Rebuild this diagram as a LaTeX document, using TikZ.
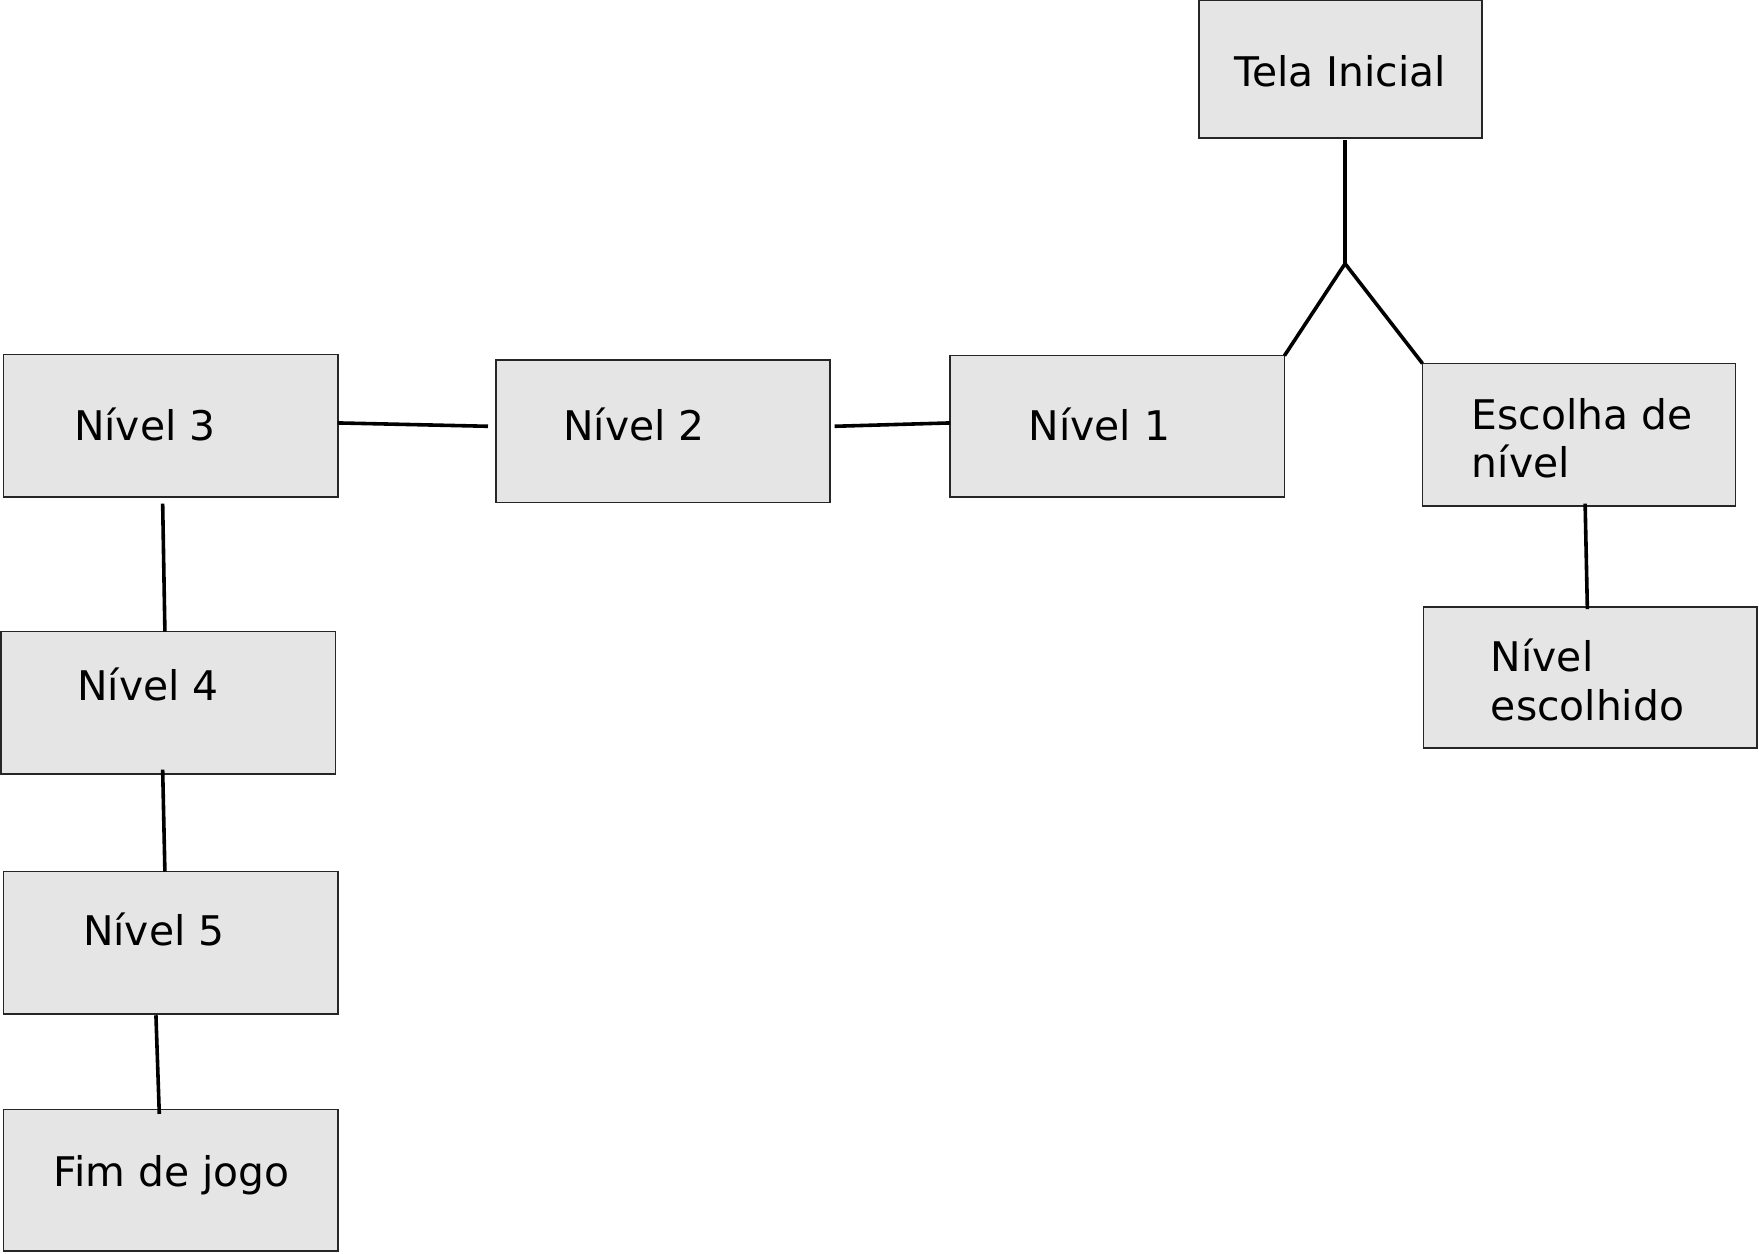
\documentclass[tikz,border=0pt]{standalone}
\usepackage{fontspec}
\setmainfont{DejaVu Sans}
\usetikzlibrary{calc}
\begin{document}
\begin{tikzpicture}[x=0.5pt,y=-0.5pt,
  box/.style={draw=black!85,line width=0.75pt,fill=black!10,inner sep=0pt,outer sep=0pt},
  txt/.style={anchor=base west,inner sep=0pt,outer sep=0pt,font=\fontsize{18.2}{21.5}\selectfont},
  conn/.style={line width=1.6pt,black}]
\useasboundingbox (0,0) rectangle (1568,1117);
% boxes
\node[box,minimum width=126pt,minimum height=61.5pt] (tela) at (1195,61.5) {};
\node[box,minimum width=149pt,minimum height=63pt] (n1) at (996,380) {};
\node[box,minimum width=139.5pt,minimum height=63.5pt] (esc) at (1407.5,387.5) {};
\node[box,minimum width=148.5pt,minimum height=63pt] (nesc) at (1417.5,604) {};
\node[box,minimum width=149pt,minimum height=63.5pt] (n2) at (591,384.5) {};
\node[box,minimum width=149pt,minimum height=63.5pt] (n3) at (152,379.5) {};
\node[box,minimum width=149pt,minimum height=63.5pt] (n4) at (150,626.5) {};
\node[box,minimum width=149pt,minimum height=63.5pt] (n5) at (152,840.5) {};
\node[box,minimum width=149pt,minimum height=63pt] (fim) at (152,1052) {};
% texts
\node[txt] (ttela) at (1100,77) {Tela Inicial};
\node[txt] (tn1) at (917,393) {Nível 1};
\node[txt] (tn2) at (502,393) {Nível 2};
\node[txt] (tn3) at (66,393) {Nível 3};
\node[txt] (tn4) at (69,624) {Nível 4};
\node[txt] (tn5) at (74,843) {Nível 5};
\node[txt] (tfim) at (48,1058) {Fim de jogo};
\node[txt] (tesca) at (1312,383) {Escolha de};
\node[txt] (tescb) at (1312,426) {nível};
\node[txt] (tnesca) at (1329,599) {Nível};
\node[txt] (tnescb) at (1329,642) {escolhido};
% connectors
\coordinate (fork) at (1199,235);
\draw[conn] ($(tela.south)+(4,2)$) -- (fork);
\draw[conn] (fork) -- (n1.north east);
\draw[conn] (fork) -- (esc.north west);
\draw[conn] ($(esc.south)+(5.5,-2)$) -- ($(nesc.north)+(-2.5,2)$);
\draw[conn] ($(n2.east)+(4,-4.5)$) -- ($(n1.west)+(0,-3)$);
\draw[conn] ($(n3.east)+(0,-2.5)$) -- ($(n2.west)+(-7,-4.5)$);
\draw[conn] ($(n3.south)+(-7,6)$) -- ($(n4.north)+(-3,0)$);
\draw[conn] ($(n4.south)+(-5,-4)$) -- ($(n5.north)+(-5,0)$);
\draw[conn] ($(n5.south)+(-13,1)$) -- ($(fim.north)+(-10,4)$);
\end{tikzpicture}
\end{document}
